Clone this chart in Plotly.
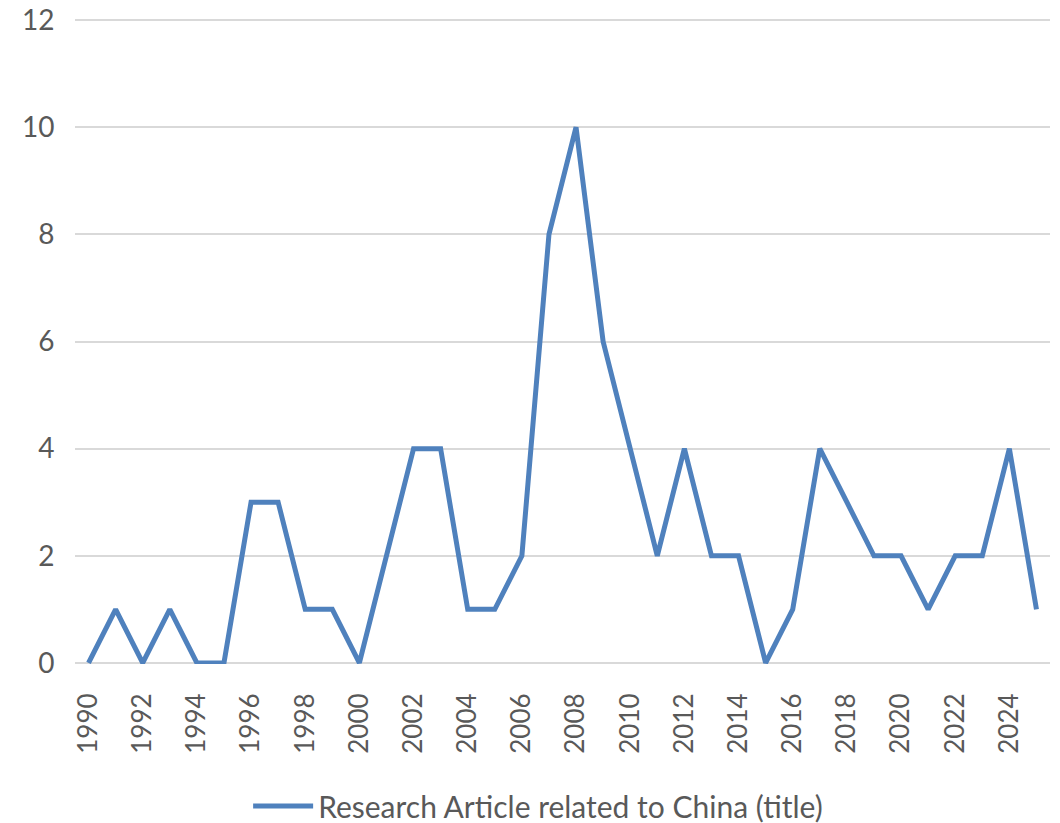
import plotly.graph_objects as go

years = list(range(1990, 2026))
articles = [0, 1, 0, 1, 0, 0, 3, 3, 1, 1, 0, 2, 4, 4, 1, 1, 2, 8, 10, 6,
            4, 2, 4, 2, 2, 0, 1, 4, 3, 2, 2, 1, 2, 2, 4, 1]
series_name = "Research Article related to China (title)"
x_ticks = list(range(1990, 2026, 2))
y_ticks = [0, 2, 4, 6, 8, 10, 12]

FONT = "Lato"
TXT = "#595959"

fig = go.Figure()
fig.add_trace(go.Scatter(
    x=years, y=articles, mode="lines", name=series_name,
    line=dict(color="#4F81BD", width=5, shape="linear"),
))

fig.update_layout(
    width=1060, height=823,
    margin=dict(l=75, r=10, t=19, b=159, autoexpand=False),
    paper_bgcolor="white", plot_bgcolor="white",
    font=dict(family=FONT, color=TXT, size=28),
    showlegend=True,
    legend=dict(orientation="h", x=0.475, xanchor="center", y=-0.22, yanchor="middle",
                itemwidth=60,
                font=dict(size=30, color=TXT, family=FONT)),
    xaxis=dict(range=[1989.5, 2025.5], tickmode="array", tickvals=x_ticks,
               ticktext=[str(v) for v in x_ticks], tickangle=-90,
               showgrid=False, zeroline=False, showline=False, automargin=False,
               ticks="outside", ticklen=18, tickcolor="rgba(0,0,0,0)",
               ticklabeloverflow="allow",
               tickfont=dict(size=26, color=TXT, family=FONT)),
    yaxis=dict(range=[-0.02, 12.02], tickmode="array", tickvals=y_ticks,
               showgrid=True, gridcolor="#D9D9D9", gridwidth=2,
               zeroline=False, showline=False, automargin=False,
               ticks="outside", ticklen=14, tickcolor="rgba(0,0,0,0)",
               ticklabeloverflow="allow",
               tickfont=dict(size=28, color=TXT, family=FONT)),
)

fig.write_html(
    "out.html",
    config={"displayModeBar": False, "staticPlot": True},
    post_script="document.body.style.margin='0';document.body.style.overflow='hidden';",
)
